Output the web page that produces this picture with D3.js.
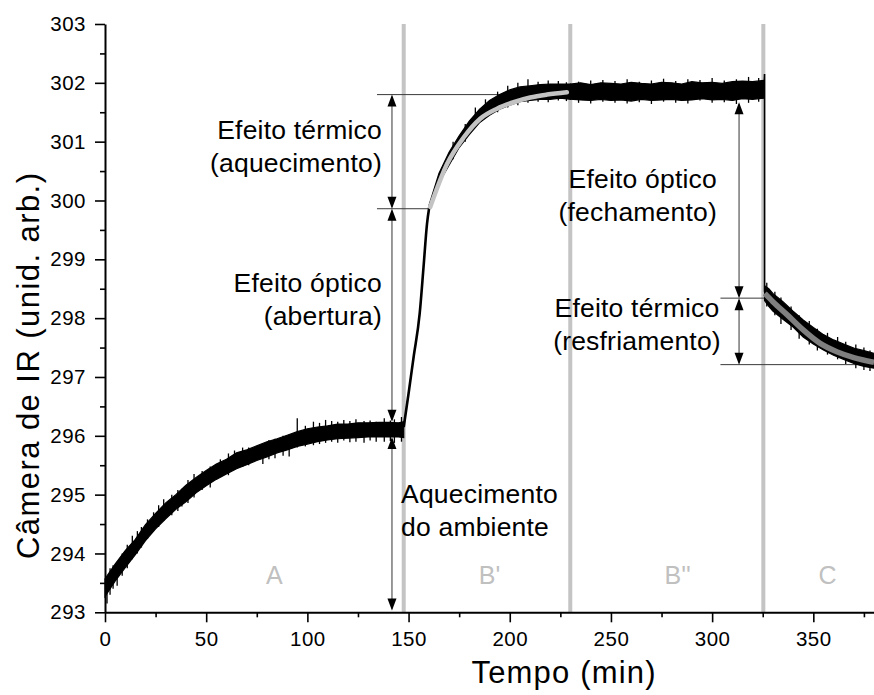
<!DOCTYPE html>
<html>
<head>
<meta charset="utf-8">
<script src="https://cdn.jsdelivr.net/npm/d3@7/dist/d3.min.js"></script>
<style>
  body { margin: 0; background: #fff; }
  svg { display: block; }
  text { font-family: "Liberation Sans", Arial, Helvetica, sans-serif; fill: #000; }
</style>
</head>
<body>
<svg id="chart" width="874" height="695"></svg>
<script>
// ---- Trace, region A (room warming): time (min), lower / upper edge of the noisy signal
const aT  = [0, 5, 10, 15, 20, 25, 30, 35, 40, 45, 50, 55, 60, 65, 70, 75, 80, 85, 90, 95, 100, 105, 110, 115, 120, 125, 130, 135, 140, 145, 147.6];
const aHi = [293.57, 293.82, 294.05, 294.24, 294.49, 294.68, 294.86, 295.00, 295.16, 295.29, 295.41, 295.52, 295.60, 295.71, 295.76, 295.83, 295.90, 295.95, 296.01, 296.07, 296.12, 296.15, 296.17, 296.20, 296.20, 296.22, 296.22, 296.23, 296.23, 296.22, 296.24];
const aLo = [293.27, 293.53, 293.76, 293.98, 294.22, 294.42, 294.59, 294.75, 294.88, 295.03, 295.15, 295.26, 295.35, 295.44, 295.51, 295.58, 295.64, 295.71, 295.76, 295.82, 295.86, 295.90, 295.93, 295.95, 295.96, 295.97, 295.98, 295.98, 295.98, 295.98, 295.97];

// ---- Fast rise when the window opens
const riseT = [147.6, 150, 152.5, 155.5, 157.4, 159.1, 160.2];
const riseV = [296.15, 296.72, 297.34, 298.08, 298.87, 299.60, 299.88];

// ---- Region B' (heating after opening)
const bT  = [160.2, 165, 170, 175, 180, 185, 190, 195, 200, 205, 210, 215, 220, 225, 230];
const bHi = [299.93, 300.46, 300.82, 301.10, 301.35, 301.55, 301.70, 301.80, 301.88, 301.93, 301.95, 301.97, 301.98, 301.98, 301.98];
const bLo = [299.84, 300.30, 300.60, 300.90, 301.12, 301.32, 301.45, 301.55, 301.62, 301.68, 301.70, 301.72, 301.72, 301.74, 301.72];

// ---- Region B'' (plateau)
const b2T  = [230, 235, 240, 245, 250, 255, 260, 265, 270, 275, 280, 285, 290, 295, 300, 305, 310, 315, 320, 325.6];
const b2Hi = [301.98, 302.00, 301.97, 302.00, 301.99, 301.98, 302.01, 301.99, 301.98, 302.01, 302.00, 301.98, 302.02, 302.00, 302.01, 301.99, 302.02, 302.03, 302.02, 302.04];
const b2Lo = [301.72, 301.71, 301.70, 301.72, 301.70, 301.71, 301.69, 301.72, 301.70, 301.71, 301.72, 301.70, 301.71, 301.73, 301.71, 301.72, 301.70, 301.73, 301.72, 301.74];

// ---- Closing step
const dropT = [325.6, 325.9, 325.9];
const dropV = [301.90, 302.15, 298.45];

// ---- Region C (cooling after closing)
const cT  = [325.9, 328, 330, 335, 340, 345, 350, 355, 360, 365, 370, 375, 380];
const cHi = [298.55, 298.50, 298.42, 298.28, 298.12, 297.97, 297.84, 297.72, 297.63, 297.56, 297.49, 297.45, 297.40];
const cLo = [298.30, 298.20, 298.12, 297.98, 297.85, 297.68, 297.56, 297.46, 297.37, 297.30, 297.23, 297.18, 297.15];

// ---- Isolated noise excursions: time, min, max
const spikes = [
  [1, 293.15, 293.6], [2.5, 293.3, 293.75], [4, 293.4, 293.8], [6, 293.45, 293.85], [8.5, 293.62, 294.0],
  [11, 293.75, 294.15], [13.5, 293.9, 294.3], [16, 294.0, 294.38], [18, 294.1, 294.45], [21, 294.25, 294.58],
  [24, 294.38, 294.7], [26.5, 294.45, 294.82], [29, 294.55, 294.92], [33, 294.65, 295.0], [36, 294.72, 295.08],
  [38, 294.8, 295.1], [41, 294.86, 295.25], [44, 294.95, 295.35], [48, 295.08, 295.4], [52, 295.12, 295.48],
  [57, 295.3, 295.6], [61, 295.33, 295.7], [64, 295.42, 295.75], [68, 295.47, 295.8], [71, 295.5, 295.8],
  [78, 295.52, 295.86], [81, 295.6, 295.93], [84, 295.62, 295.95], [88, 295.66, 296.0], [91, 295.65, 296.02],
  [95, 295.8, 296.3], [99, 295.82, 296.17], [103, 295.84, 296.24], [106, 295.86, 296.22], [109, 295.88, 296.27],
  [112, 295.9, 296.25], [115, 295.88, 296.24], [118, 295.92, 296.27], [121, 295.89, 296.25], [124, 295.9, 296.28],
  [128, 295.88, 296.25], [131, 295.92, 296.26], [134, 295.9, 296.24], [138, 295.9, 296.3], [141, 295.91, 296.26],
  [143, 295.88, 296.28], [146.5, 295.9, 296.32],
  [172, 300.7, 301.0], [178, 301.0, 301.3], [183, 301.25, 301.58], [188, 301.4, 301.72], [194, 301.5, 301.85],
  [199, 301.58, 301.95], [204, 301.62, 302.0], [209, 301.66, 302.06], [214, 301.68, 302.02], [219, 301.67, 302.04],
  [224, 301.7, 302.03], [228, 301.69, 302.01],
  [234, 301.66, 302.02], [240, 301.65, 302.04], [246, 301.68, 302.05], [252, 301.66, 302.03], [258, 301.65, 302.06],
  [264, 301.67, 302.02], [270, 301.64, 302.04], [276, 301.68, 302.07], [282, 301.66, 302.03], [288, 301.65, 302.06],
  [294, 301.7, 302.05], [300, 301.66, 302.08], [306, 301.67, 302.04], [312, 301.64, 302.06], [318, 301.66, 302.1],
  [323, 301.68, 302.08],
  [327, 298.2, 298.6], [331, 298.05, 298.45], [334, 297.9, 298.35], [339, 297.8, 298.2], [343, 297.65, 298.05],
  [348, 297.55, 297.95], [352, 297.45, 297.82], [357, 297.38, 297.75], [362, 297.3, 297.68], [366, 297.22, 297.6],
  [371, 297.15, 297.55], [375, 297.12, 297.5], [378, 297.1, 297.45]
];

// ---- Exponential fits
const fitBT = [160.7, 169, 177.2, 185.4, 193.7, 201.9, 210.1, 218.4, 228.2];
const fitBV = [299.89, 300.62, 301.07, 301.39, 301.56, 301.67, 301.75, 301.80, 301.84];
const fitCT = [326, 330, 337, 345, 353, 361.6, 370, 380];
const fitCV = [298.42, 298.28, 298.06, 297.80, 297.58, 297.43, 297.33, 297.25];

// ---- Phase boundaries and phase names
const boundaryT = [147.6, 229.9, 325.3];
const phaseNames = ["A", "B'", "B''", "C"];
const phaseT = [83.7, 190, 283, 357];

// ---- Reference levels: value, start time, end time
const levels = [
  [301.80, 134.4, 228.9],
  [299.86, 134.4, 159.6],
  [298.34, 304.1, 326.0],
  [297.21, 304.1, 380.0]
];
// ---- Double arrows: time, top value, bottom value
const arrows = [
  [141.8, 301.80, 299.86],
  [141.8, 299.86, 296.24],
  [141.8, 295.98, 293.03],
  [313.3, 301.67, 298.34],
  [313.3, 298.34, 297.21]
];

// ---- Axis ticks
const xMajor = [0, 50, 100, 150, 200, 250, 300, 350];
const xMinor = [25, 75, 125, 175, 225, 275, 325, 375];
const yMajor = [293, 294, 295, 296, 297, 298, 299, 300, 301, 302, 303];
const yMinor = [293.5, 294.5, 295.5, 296.5, 297.5, 298.5, 299.5, 300.5, 301.5, 302.5];

const svg = d3.select("#chart");
const x = d3.scaleLinear().domain([0, 450]).range([105, 1015.7]);
const y = d3.scaleLinear().domain([293, 303]).range([612.3, 24]);

// phase boundaries
svg.append("g").selectAll("line").data(boundaryT).join("line")
  .attr("x1", d => x(d)).attr("x2", d => x(d))
  .attr("y1", y(303)).attr("y2", y(293))
  .attr("stroke", "#c4c4c4").attr("stroke-width", 4);

// phase names
svg.append("g").selectAll("text").data(phaseNames).join("text")
  .attr("x", (d, i) => x(phaseT[i])).attr("y", 584)
  .attr("text-anchor", "middle").style("font-size", "25px").style("fill", "#c0c0c0")
  .text(d => d);

// reference levels
svg.append("g").selectAll("line").data(levels).join("line")
  .attr("x1", d => x(d[1])).attr("x2", d => x(d[2]))
  .attr("y1", d => y(d[0])).attr("y2", d => y(d[0]))
  .attr("stroke", "#3a3a3a").attr("stroke-width", 1);

// noisy trace as bands
const band = d3.area().x(d => x(d[0])).y0(d => y(d[1])).y1(d => y(d[2]));
[[aT, aLo, aHi], [bT, bLo, bHi], [b2T, b2Lo, b2Hi], [cT, cLo, cHi]].forEach(([t, lo, hi]) => {
  svg.append("path").datum(t.map((v, i) => [v, lo[i], hi[i]]))
    .attr("d", band).attr("fill", "#000").attr("stroke", "#000").attr("stroke-width", 1.2);
});
svg.append("g").selectAll("line").data(spikes).join("line")
  .attr("x1", d => x(d[0])).attr("x2", d => x(d[0]))
  .attr("y1", d => y(d[1])).attr("y2", d => y(d[2]))
  .attr("stroke", "#000").attr("stroke-width", 1.3);

const line = d3.line().x(d => x(d[0])).y(d => y(d[1]));
svg.append("path").datum(riseT.map((t, i) => [t, riseV[i]]))
  .attr("d", line.curve(d3.curveMonotoneX)).attr("fill", "none").attr("stroke", "#000").attr("stroke-width", 2.6);
svg.append("path").datum(dropT.map((t, i) => [t, dropV[i]]))
  .attr("d", d3.line().x(d => x(d[0])).y(d => y(d[1]))).attr("fill", "none").attr("stroke", "#000").attr("stroke-width", 1.6);

// fits
const smooth = d3.line().x(d => x(d[0])).y(d => y(d[1])).curve(d3.curveMonotoneX);
svg.append("path").datum(fitBT.map((t, i) => [t, fitBV[i]]))
  .attr("d", smooth).attr("fill", "none").attr("stroke", "#c3c3c3").attr("stroke-width", 4.5).attr("stroke-linecap", "round");
svg.append("path").datum(fitCT.map((t, i) => [t, fitCV[i]]))
  .attr("d", smooth).attr("fill", "none").attr("stroke", "#7f7f7f").attr("stroke-width", 5.5);

// double arrows
const ag = svg.append("g");
arrows.forEach(([t, top, bot]) => {
  const px = x(t), y1 = y(top), y2 = y(bot), L = 12, W = 4.5;
  ag.append("line").attr("x1", px).attr("x2", px).attr("y1", y1 + 2).attr("y2", y2 - 2)
    .attr("stroke", "#333").attr("stroke-width", 1);
  ag.append("path").attr("d", `M${px},${y1} L${px - W},${y1 + L} L${px + W},${y1 + L} Z`).attr("fill", "#000");
  ag.append("path").attr("d", `M${px},${y2} L${px - W},${y2 - L} L${px + W},${y2 - L} Z`).attr("fill", "#000");
});

// axes
svg.append("g").attr("transform", `translate(0,${y(293)})`)
  .call(d3.axisBottom(x).tickValues(xMajor).tickSize(10).tickSizeOuter(0).tickPadding(9));
svg.append("g").attr("transform", `translate(0,${y(293)})`)
  .call(d3.axisBottom(x).tickValues(xMinor).tickSize(5).tickFormat(""))
  .call(g => g.select(".domain").remove());
svg.append("g").attr("transform", `translate(${x(0)},0)`)
  .call(d3.axisLeft(y).tickValues(yMajor).tickSize(10).tickSizeOuter(0).tickPadding(9).tickFormat(d3.format("d")));
svg.append("g").attr("transform", `translate(${x(0)},0)`)
  .call(d3.axisLeft(y).tickValues(yMinor).tickSize(5).tickFormat(""))
  .call(g => g.select(".domain").remove());
svg.selectAll(".domain").attr("stroke", "#000").attr("stroke-width", 2);
svg.selectAll(".tick line").attr("stroke", "#000").attr("stroke-width", 1.6);
svg.selectAll(".tick text").attr("font-family", null).attr("font-size", null)
  .style("font-size", "20.5px").style("letter-spacing", "0.5px").style("fill", "#000");

// axis titles
svg.append("text").attr("x", 563.5).attr("y", 683).attr("text-anchor", "middle")
  .attr("textLength", 184).attr("lengthAdjust", "spacing")
  .style("font-size", "31px").text("Tempo (min)");
svg.append("text").attr("transform", "translate(39,366) rotate(-90)").attr("text-anchor", "middle")
  .attr("textLength", 386).attr("lengthAdjust", "spacing")
  .style("font-size", "31px").text("Câmera de IR (unid. arb.)");

// annotations
const ann = svg.append("g").style("font-size", "26.5px").style("letter-spacing", "0.2px");
function block(lines, px, py, anchor) {
  const t = ann.append("text").attr("text-anchor", anchor);
  lines.forEach((s, i) => t.append("tspan").attr("x", px).attr("y", py + i * 33).text(s));
}
block(["Efeito térmico", "(aquecimento)"], 382, 139, "end");
block(["Efeito óptico", "(abertura)"], 382, 292, "end");
block(["Aquecimento", "do ambiente"], 401, 503, "start");
block(["Efeito óptico", "(fechamento)"], 717, 188, "end");
block(["Efeito térmico", "(resfriamento)"], 637, 317, "middle");
</script>
</body>
</html>
